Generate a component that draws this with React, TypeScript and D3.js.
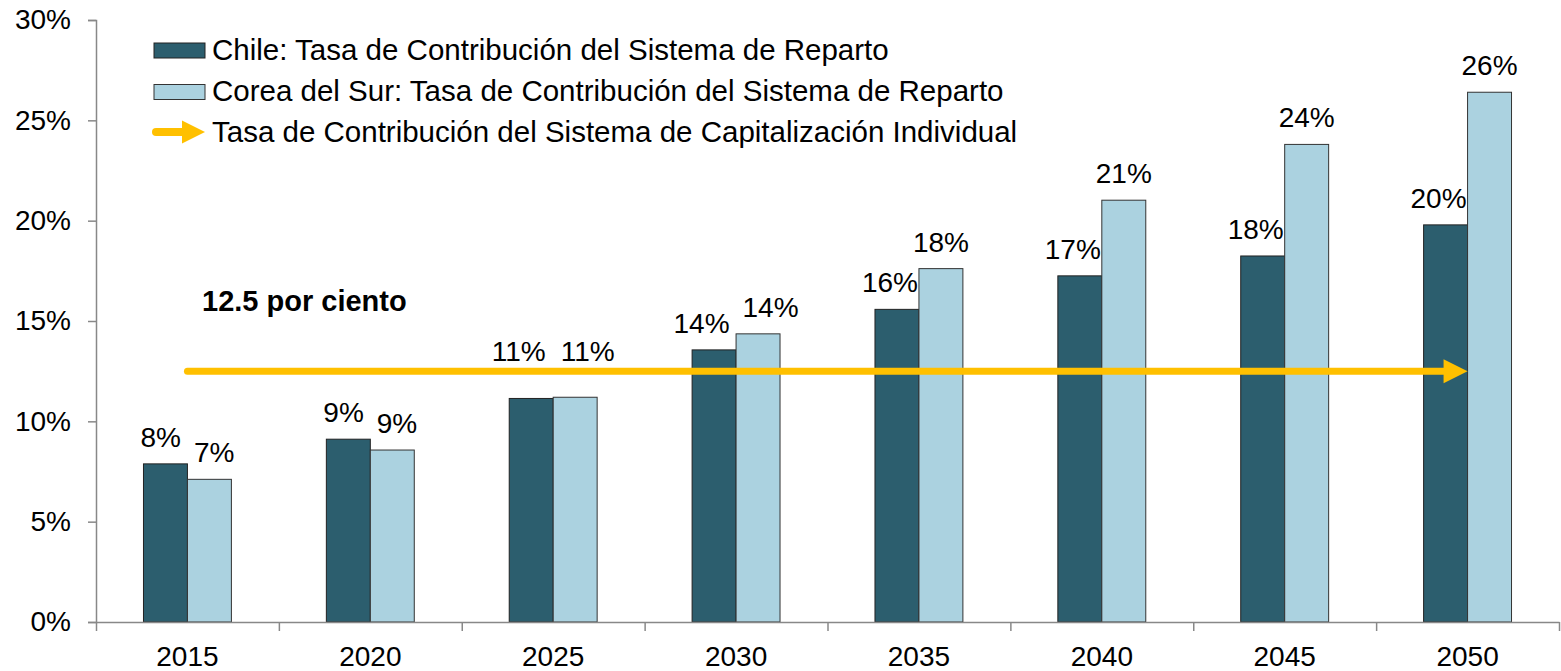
import * as d3 from "d3";
import { useEffect, useRef } from "react";

// values (percent)
const years = ["2015", "2020", "2025", "2030", "2035", "2040", "2045", "2050"];
const chileRate = [7.88, 9.11, 11.14, 13.56, 15.58, 17.25, 18.24, 19.79];
const koreaRate = [7.11, 8.57, 11.2, 14.36, 17.61, 21.02, 23.8, 26.4];
const individualRate = 12.5;
const yTicks = [0, 5, 10, 15, 20, 25, 30];

const seriesKeys = ["chile", "korea"];
const legendLabels = [
  "Chile: Tasa de Contribución del Sistema de Reparto",
  "Corea del Sur: Tasa de Contribución del Sistema de Reparto",
  "Tasa de Contribución del Sistema de Capitalización Individual",
];
const arrowLabel = "12.5 por ciento";

const W = 1561;
const H = 671;
const FONT = "'Liberation Sans', Arial, sans-serif";
const CHILE = "#2C5E6E";
const KOREA = "#ABD2E0";
const GOLD = "#FFC000";
const AXIS = "#888888";
const LABEL_SIZE = 28;
const LEGEND_SIZE = 29.5;

// rough Arial advance widths, enough to place the value labels
function textWidth(s: string, size: number) {
  let w = 0;
  for (const ch of s) w += ch === "%" ? 0.889 : ch === "." ? 0.278 : 0.556;
  return w * size;
}

function App() {
  const yAxisRef = useRef<SVGGElement>(null);
  const xAxisRef = useRef<SVGGElement>(null);
  const xTickRef = useRef<SVGGElement>(null);

  const left = 96;
  const right = 1559;
  const top = 20;
  const bottom = 622;

  const x0 = d3.scaleBand().domain(years).range([left, right]);
  const x1 = d3
    .scaleBand()
    .domain(seriesKeys)
    .range([0, x0.bandwidth()])
    .paddingOuter(1.08);
  const edges = d3.scaleLinear().domain([0, years.length]).range([left, right]);
  const y = d3.scaleLinear().domain([0, 30]).range([bottom, top]);

  useEffect(() => {
    const ya = d3
      .axisLeft(y)
      .tickValues(yTicks)
      .tickSize(8)
      .tickPadding(17)
      .tickFormat((d) => `${d}%`);
    const g = d3.select(yAxisRef.current!);
    g.call(ya);
    g.selectAll("path,line").attr("stroke", AXIS).attr("stroke-width", 1.5);
    g.selectAll("text")
      .attr("fill", "#000")
      .style("font-size", "28px")
      .style("font-family", FONT);

    const xa = d3.axisBottom(x0).tickSize(0).tickPadding(24);
    const gx = d3.select(xAxisRef.current!);
    gx.call(xa);
    gx.select(".domain").remove();
    gx.selectAll("text")
      .attr("fill", "#000")
      .style("font-size", "28px")
      .style("font-family", FONT);

    const xt = d3
      .axisBottom(edges)
      .tickValues(d3.range(years.length + 1))
      .tickSize(9)
      .tickSizeOuter(0)
      .tickFormat(() => "");
    const gt = d3.select(xTickRef.current!);
    gt.call(xt);
    gt.selectAll("path,line").attr("stroke", AXIS).attr("stroke-width", 1.5);
  }, []);

  const arrowY = y(individualRate);
  const arrowStart = x0(years[0])! + x0.bandwidth() / 2;
  const arrowEnd = x0(years[years.length - 1])! + x0.bandwidth() / 2;

  // value labels, nudged the way the original avoids collisions
  const labels = years.flatMap((yr, i) => {
    const bw = x1.bandwidth();
    const cTop = y(chileRate[i]);
    const kTop = y(koreaRate[i]);
    const kLeft = x0(yr)! + x1("korea")!;
    let cx = x0(yr)! + x1("chile")! + bw / 2;
    let kx = kLeft + bw / 2;
    const cText = `${Math.round(chileRate[i])}%`;
    const kText = `${Math.round(koreaRate[i])}%`;
    const wc = textWidth(cText, LABEL_SIZE);
    const wk = textWidth(kText, LABEL_SIZE);
    const liftOffArrow = (base: number) => {
      const hitsArrow = base + 2 > arrowY - 4 && base - LABEL_SIZE * 0.72 < arrowY + 4;
      return hitsArrow ? arrowY - 10 : base;
    };
    const cBase = liftOffArrow(cTop - 17);
    const kBase = liftOffArrow(kTop - 17);
    if (kTop < cBase) {
      cx = Math.min(cx, kLeft - 1 - wc / 2);
    } else if (Math.abs(cBase - kBase) < LABEL_SIZE * 0.75) {
      const gap = kx - wk / 2 - (cx + wc / 2);
      if (gap < 13) {
        const shift = (13 - gap) / 2;
        cx -= shift;
        kx += shift;
      }
    }
    return [
      { key: `c${yr}`, x: cx, y: cBase, text: cText },
      { key: `k${yr}`, x: kx, y: kBase, text: kText },
    ];
  });

  return (
    <svg
      width={W}
      height={H}
      viewBox={`0 0 ${W} ${H}`}
      style={{ position: "absolute", left: 0, top: 0, background: "#fff" }}
      fontFamily={FONT}
    >
      {years.map((yr, i) => (
        <g key={yr} transform={`translate(${x0(yr)},0)`}>
          <rect
            x={x1("chile")}
            y={y(chileRate[i])}
            width={x1.bandwidth()}
            height={bottom - y(chileRate[i])}
            fill={CHILE}
            stroke="#222"
            strokeWidth={1}
          />
          <rect
            x={x1("korea")}
            y={y(koreaRate[i])}
            width={x1.bandwidth()}
            height={bottom - y(koreaRate[i])}
            fill={KOREA}
            stroke="#333"
            strokeWidth={1}
          />
        </g>
      ))}

      <g ref={yAxisRef} transform={`translate(${left},0)`} />
      <g ref={xTickRef} transform={`translate(0,${bottom})`} />
      <g ref={xAxisRef} transform={`translate(0,${bottom})`} />

      {labels.map((l) => (
        <text key={l.key} x={l.x} y={l.y} textAnchor="middle" fontSize={LABEL_SIZE} fill="#000">
          {l.text}
        </text>
      ))}

      {/* capitalizacion individual arrow */}
      <line
        x1={arrowStart}
        y1={arrowY}
        x2={arrowEnd - 22}
        y2={arrowY}
        stroke={GOLD}
        strokeWidth={7}
        strokeLinecap="round"
      />
      <path
        d={`M${arrowEnd},${arrowY} L${arrowEnd - 24},${arrowY - 12} L${arrowEnd - 24},${arrowY + 12} Z`}
        fill={GOLD}
      />
      <text x={202} y={311} fontSize={29} fontWeight="bold" fill="#000">
        {arrowLabel}
      </text>

      {/* legend */}
      <g>
        <rect x={154} y={43} width={51} height={15} fill={CHILE} stroke="#222" strokeWidth={1} />
        <text x={212} y={60} fontSize={LEGEND_SIZE} fill="#000">
          {legendLabels[0]}
        </text>
        <rect x={154} y={84.5} width={51} height={15} fill={KOREA} stroke="#333" strokeWidth={1} />
        <text x={212} y={101} fontSize={LEGEND_SIZE} fill="#000">
          {legendLabels[1]}
        </text>
        <line x1={156} y1={132} x2={184} y2={132} stroke={GOLD} strokeWidth={8} strokeLinecap="round" />
        <path d="M205,132 L182,120.5 L182,143.5 Z" fill={GOLD} />
        <text x={212} y={142} fontSize={LEGEND_SIZE} fill="#000">
          {legendLabels[2]}
        </text>
      </g>
    </svg>
  );
}

export default App;
